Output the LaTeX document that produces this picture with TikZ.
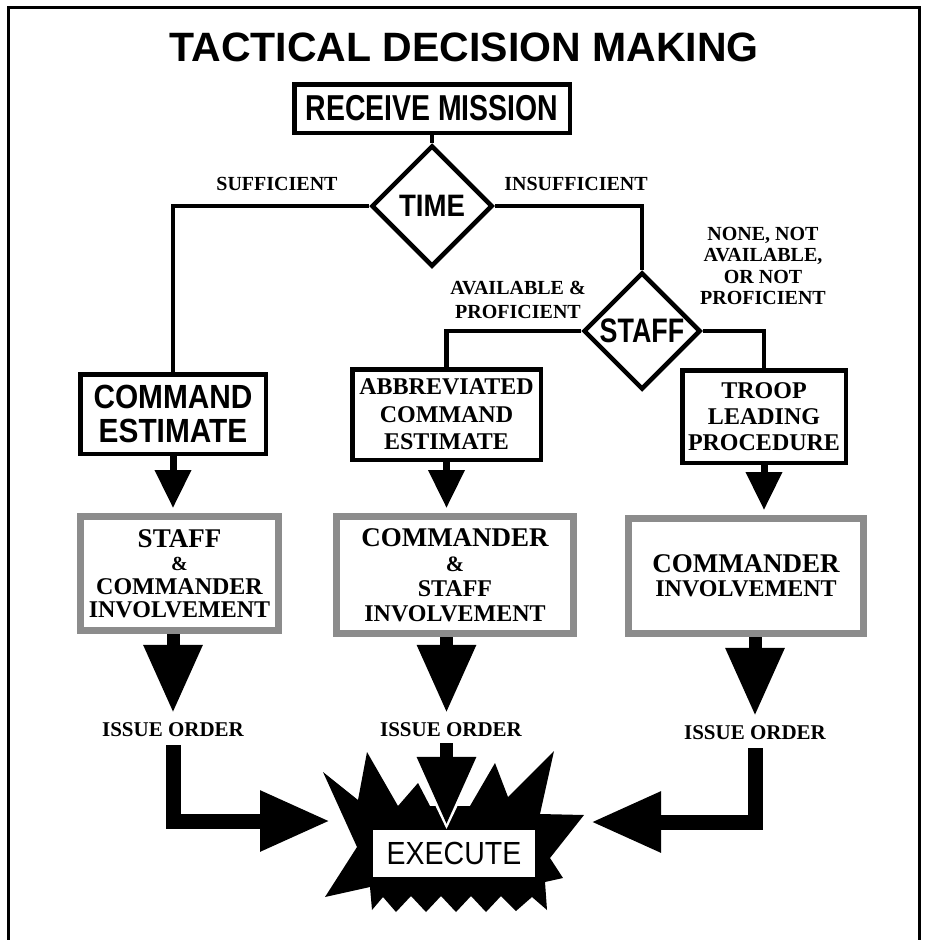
\documentclass[tikz,border=0pt]{standalone}
\usepackage{fontspec}
\setmainfont{Liberation Serif}
\setsansfont{Liberation Sans}
\newfontfamily\widesans{Liberation Sans}
\newfontfamily\midsans[FakeStretch=0.89]{Liberation Sans}
\newfontfamily\slimsans[FakeStretch=0.79]{Liberation Sans}
\usepackage{tikz}
\usetikzlibrary{arrows.meta,shapes.geometric}
\definecolor{shade}{gray}{0.55}
\newcommand{\setfs}[2]{\fontsize{#1}{#2}\selectfont}

\begin{document}
\begin{tikzpicture}
[
	                x = 1pt, y = -1pt,
	        box/.style = { draw=black, line width=4.5pt, fill=white, inner sep=0pt, align=center },
	     decide/.style = { diamond, draw=black, line width=4.5pt, inner sep=0pt },
	    involve/.style = { draw=shade, line width=7pt, inner sep=0pt, align=center, font=\bfseries\setfs{24}{24} },
	        tag/.style = { inner sep=0pt, align=center, font=\bfseries\setfs{20}{21.5} },
	      order/.style = { tag, font=\bfseries\setfs{21}{22} },
	       link/.style = { line width=4.5pt },
	       feed/.style = { line width=7pt, -{Triangle[length=38pt,width=35pt]}, shorten >=5pt },
	  bigarrow/.style = { line width=13pt, -{Triangle[length=68pt,width=56pt]}, shorten >=10pt },
	     elbow/.style = { line width=15pt, -{Triangle[length=70pt,width=57pt]}, shorten <=8pt }
]
	\useasboundingbox (0,0) rectangle (928,940);
	\draw [line width=3pt] (8,960) -- (8,7) -- (919,7) -- (919,960);

	% top of the chart
	\node (title)  at (464,47)    [font=\widesans\bfseries\setfs{41}{45}] {TACTICAL DECISION MAKING};
	\node (recv)   at (432,108.5) [box, minimum width=275.5pt, minimum height=48.5pt,
	                               font=\slimsans\bfseries\setfs{36}{40}] {RECEIVE MISSION};
	\node (time)   at (432,206)   [decide, minimum width=121pt, minimum height=121pt,
	                               font=\midsans\bfseries\setfs{31}{34}] {TIME};
	\node (suff)   at (277,184)   [tag] {SUFFICIENT};
	\node (insuff) at (576,184)   [tag] {INSUFFICIENT};

	\node (staff)  at (642,331)   [decide, minimum width=117pt, minimum height=117pt,
	                               font=\slimsans\bfseries\setfs{34}{36}] {STAFF};
	\node (avail)  at (518,300)   [tag, font=\bfseries\setfs{20}{24}] {AVAILABLE \&\\PROFICIENT};
	\node (none)   at (763,266)   [tag] {NONE, NOT\\AVAILABLE,\\OR NOT\\PROFICIENT};

	% the three ways
	\node (cest)   at (173,414)   [box, minimum width=185.5pt, minimum height=79.5pt,
	                               font=\midsans\bfseries\setfs{33.5}{34}] {COMMAND\\ESTIMATE};
	\node (abbr)   at (446.5,414.5) [box, minimum width=188.5pt, minimum height=90.5pt,
	                               font=\bfseries\setfs{24}{27.5}] {ABBREVIATED\\COMMAND\\ESTIMATE};
	\node (troop)  at (764,416.5) [box, minimum width=163.5pt, minimum height=92.5pt,
	                               font=\bfseries\setfs{24}{26}] {TROOP\\LEADING\\PROCEDURE};

	\node (sgray)  at (179.5,573.5) [involve, minimum width=198pt, minimum height=114pt,
	                               font=\bfseries\setfs{24}{23.5}]
	                               {{\setfs{27}{24}STAFF}\\{\setfs{20}{24}\&}\\COMMANDER\\INVOLVEMENT};
	\node (cgray)  at (455,575)   [involve, minimum width=237pt, minimum height=117pt,
	                               font=\bfseries\setfs{24}{25}]
	                               {{\setfs{27}{25}COMMANDER}\\{\setfs{22}{25}\&}\\STAFF\\INVOLVEMENT};
	\node (rgray)  at (746,576)   [involve, minimum width=235pt, minimum height=115pt]
	                               {{\setfs{27}{24}COMMANDER}\\INVOLVEMENT};

	\node (order1) at (173,730)   [order] {ISSUE ORDER};
	\node (order2) at (451,730)   [order] {ISSUE ORDER};
	\node (order3) at (755,733)   [order] {ISSUE ORDER};
	\coordinate (lhit) at (330,821);
	\coordinate (rhit) at (591,822);

	% burst
	\fill [black] (323,772) -- (358,800) -- (367,752) -- (398,806) -- (418,783) -- (430,806)
	   -- (470,806) -- (495,763) -- (508,797) -- (554,751) -- (540,814) -- (584,815)
	   -- (550,858) -- (563,878) -- (545,882) -- (547,910) -- (532,897) -- (516,911)
	   -- (501,896) -- (486,912) -- (471,896) -- (456,912) -- (441,896) -- (426,912)
	   -- (411,896) -- (396,912) -- (383,897) -- (372,910) -- (370,887) -- (325,897)
	   -- (357,847) -- cycle;
	\node (exe)    at (454,853.5) [fill=white, inner sep=0pt, minimum width=162pt, minimum height=47pt,
	                               font=\midsans\setfs{32}{34}] {EXECUTE};

	% lines
	\draw [link] (recv) -- (time);
	\draw [link] (time.west) -| (cest.north);
	\draw [link] (time.east) -| (staff.north);
	\draw [link] (staff.west) -| (abbr.north);
	\draw [link] (staff.east) -| (troop.north);

	% arrows
	\draw [feed] (cest.south) -- (cest.south |- sgray.north);
	\draw [feed] (abbr.south) -- (abbr.south |- cgray.north);
	\draw [feed] (troop.south) -- (troop.south |- rgray.north);

	\draw [bigarrow] (sgray.south -| order1) -- (order1.north);
	\draw [bigarrow] (cgray.south -| abbr) -- (abbr |- order2.north);
	\draw [bigarrow] (rgray.south -| order3) -- (order3.north);

	\draw [elbow] (order1.south) |- (lhit);
	\draw [elbow] (order3.south) |- (rhit);
	% white rim under the arrow into the burst
	\draw [line width=13pt, white, shorten <=6pt, -{Triangle[length=76pt,width=68pt]}]
	      (order2.south -| abbr) -- (abbr |- exe.north);
	\draw [line width=13pt, shorten <=6pt, shorten >=5pt, -{Triangle[length=68pt,width=56pt]}]
	      (order2.south -| abbr) -- (abbr |- exe.north);

\end{tikzpicture}
\end{document}
